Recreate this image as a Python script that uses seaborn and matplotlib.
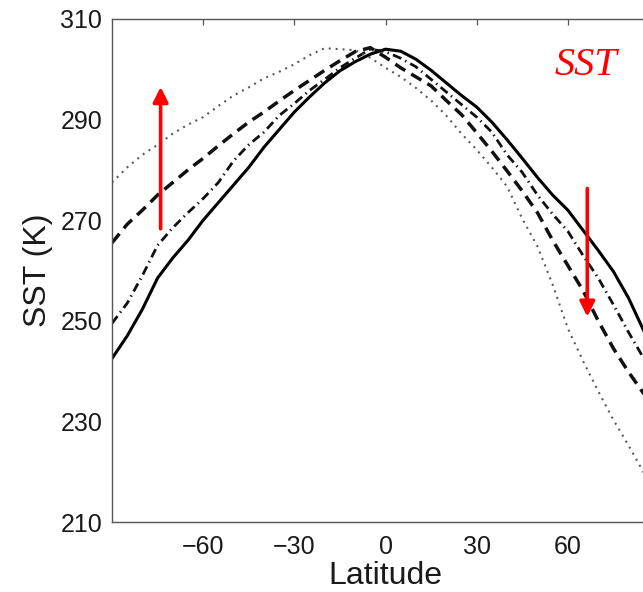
import numpy as np
import pandas as pd
import matplotlib
matplotlib.use("Agg")
import matplotlib.pyplot as plt
import seaborn as sns

# ---- data ----
latitude = [-90, -85, -80, -75, -70, -65, -60, -55, -50, -45, -40, -35, -30, -25, -20,
            -15, -10, -5, 0, 5, 10, 15, 20, 25, 30, 35, 40, 45, 50, 55, 60, 65, 70,
            75, 80, 85, 90]

sst_solid = [242.5, 247.0, 252.3, 258.5, 262.5, 266.0, 270.0, 273.5, 277.0, 280.5,
             284.5, 288.0, 291.5, 294.5, 297.3, 299.7, 301.5, 303.0, 304.0, 303.6,
             302.0, 299.8, 297.3, 294.8, 292.5, 289.5, 286.0, 282.3, 278.5, 275.0,
             272.0, 268.0, 264.0, 259.8, 254.5, 248.0, 241.0]

sst_dashdot = [249.5, 253.5, 259.0, 265.0, 268.5, 271.5, 274.3, 277.5, 281.8, 285.0,
               287.5, 290.8, 293.2, 295.8, 298.0, 300.3, 302.2, 304.0, 303.5, 302.2,
               300.5, 298.0, 295.5, 293.0, 290.5, 287.5, 283.0, 279.5, 275.0, 271.2,
               267.8, 263.0, 258.5, 253.2, 247.7, 242.5, 237.0]

sst_dashed = [265.5, 269.2, 272.0, 275.0, 277.5, 280.0, 282.3, 284.8, 287.2, 289.5,
              291.5, 293.7, 295.8, 297.8, 299.8, 301.7, 303.5, 304.3, 302.4, 300.3,
              298.5, 296.7, 293.8, 291.0, 287.4, 283.7, 279.8, 275.8, 271.5, 266.0,
              261.0, 256.0, 250.0, 244.5, 239.8, 235.5, 231.0]

sst_dotted = [277.5, 280.5, 283.0, 285.0, 287.2, 289.0, 290.5, 292.7, 294.8, 296.4,
              298.2, 299.5, 301.0, 302.8, 304.2, 304.0, 303.8, 302.3, 300.3, 298.5,
              296.3, 293.8, 290.8, 287.2, 284.0, 280.5, 276.7, 270.3, 264.8, 257.2,
              248.5, 242.0, 236.0, 230.3, 225.2, 219.8, 215.0]

x_ticks = [-60, -30, 0, 30, 60]
y_ticks = [210, 230, 250, 270, 290, 310]

# ---- style ----
sns.set_style("white")
plt.rcParams['font.family'] = ['Liberation Sans', 'DejaVu Sans']
plt.rcParams['axes.unicode_minus'] = True
plt.rcParams['lines.scale_dashes'] = False

W, H = 643, 592
fig = plt.figure(figsize=(W / 100, H / 100), dpi=100)
ax_left, ax_right, ax_top, ax_bottom = 112, 659, 19, 522
ax = fig.add_axes([ax_left / W, 1 - ax_bottom / H,
                   (ax_right - ax_left) / W, (ax_bottom - ax_top) / H])

series = [
    (sst_solid, dict(color="black", lw=2.2, linestyle="-")),
    (sst_dashdot, dict(color="#111111", lw=2.0, linestyle=(0, (6.5, 3.2, 1.0, 3.2)))),
    (sst_dashed, dict(color="#111111", lw=2.5, linestyle=(0, (8.5, 5.0)))),
    (sst_dotted, dict(color="#555555", lw=1.5, linestyle=(0, (1.4, 3.6)))),
]
for vals, kw in series:
    df = pd.DataFrame({"Latitude": latitude, "SST": vals})
    sns.lineplot(data=df, x="Latitude", y="SST", ax=ax, **kw)

ax.set_xlim(-90, 90)
ax.set_ylim(210, 310)
ax.set_xticks(x_ticks)
ax.set_yticks(y_ticks)
ax.set_xlabel("Latitude", fontsize=23, color="#1a1a1a", labelpad=1)
ax.set_ylabel("SST (K)", fontsize=23, color="#1a1a1a", labelpad=5)
ax.tick_params(axis="both", direction="in", length=4, width=0.9, colors="#555555",
               labelcolor="#1a1a1a", labelsize=18, top=True, right=True)
ax.tick_params(axis="x", pad=9.5)
ax.tick_params(axis="y", pad=7)
for s in ax.spines.values():
    s.set_color("#555555")
    s.set_linewidth(1.0)
    s.set_visible(True)

# red arrows
ax.annotate("", xy=(-74, 296.5), xytext=(-74, 268.3),
            arrowprops=dict(arrowstyle="-|>,head_length=0.9,head_width=0.45",
                            color="#ff0000", lw=2.6, shrinkA=0, shrinkB=0))
ax.annotate("", xy=(66.4, 250.8), xytext=(66.4, 276.3),
            arrowprops=dict(arrowstyle="-|>,head_length=0.9,head_width=0.45",
                            color="#ff0000", lw=2.6, shrinkA=0, shrinkB=0))

ax.text(66.0, 298.9, "SST", color="#ff0000", fontsize=29, fontstyle="italic",
        family=["Liberation Serif", "DejaVu Serif"], ha="center", va="baseline")

fig.savefig("out.png", dpi=100)
